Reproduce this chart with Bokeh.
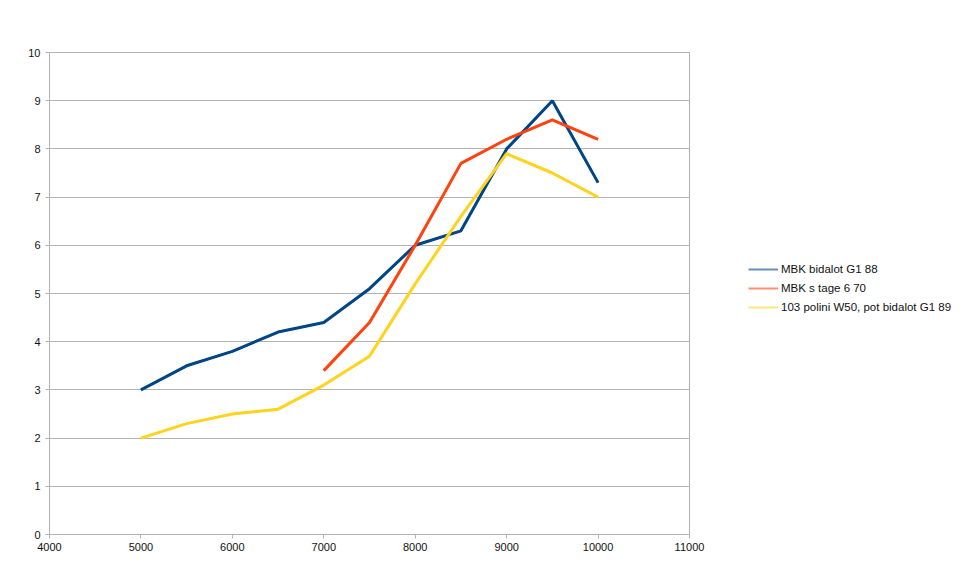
from bokeh.plotting import figure
from bokeh.models import Legend, LegendItem, FixedTicker, Range1d
from bokeh.embed import file_html
from bokeh.resources import INLINE

x_blue = [5000, 5500, 6000, 6500, 7000, 7500, 8000, 8500, 9000, 9500, 10000]
y_blue = [3.0, 3.5, 3.8, 4.2, 4.4, 5.1, 6.0, 6.3, 8.0, 9.0, 7.3]
x_red = [7000, 7500, 8000, 8500, 9000, 9500, 10000]
y_red = [3.4, 4.4, 6.0, 7.7, 8.2, 8.6, 8.2]
x_yellow = [5000, 5500, 6000, 6500, 7000, 7500, 8000, 8500, 9000, 9500, 10000]
y_yellow = [2.0, 2.3, 2.5, 2.6, 3.1, 3.7, 5.2, 6.6, 7.9, 7.5, 7.0]
names = ["MBK bidalot G1 88", "MBK s tage 6 70", "103 polini W50, pot bidalot G1 89"]
colors = ["#004586", "#ff420e", "#ffd320"]
x_ticks = [4000, 5000, 6000, 7000, 8000, 9000, 10000, 11000]
y_ticks = [0, 1, 2, 3, 4, 5, 6, 7, 8, 9, 10]

p = figure(width=956, height=561, frame_width=640, frame_height=482,
           min_border_left=49, min_border_top=52, min_border_bottom=27, min_border_right=267,
           x_range=Range1d(4000, 11000), y_range=Range1d(0, 10),
           output_backend="svg", toolbar_location=None)
p.outline_line_color = "#b3b3b3"
p.outline_line_width = 1
p.background_fill_color = "white"
p.border_fill_color = "white"

grey = "#b3b3b3"
for ax in (p.xaxis[0], p.yaxis[0]):
    ax.axis_line_color = grey
    ax.major_tick_line_color = grey
    ax.minor_tick_line_color = None
    ax.major_tick_out = 4
    ax.major_tick_in = 0
    ax.major_label_text_font = "Liberation Sans"
    ax.major_label_text_font_size = "11px"
    ax.major_label_text_color = "#111111"
p.xaxis[0].ticker = FixedTicker(ticks=x_ticks)
p.yaxis[0].ticker = FixedTicker(ticks=y_ticks)
p.xaxis[0].major_label_standoff = 4
p.yaxis[0].major_label_standoff = 5
p.xgrid.grid_line_color = None
p.ygrid.grid_line_color = grey
p.ygrid.ticker = FixedTicker(ticks=y_ticks)

series = [(x_blue, y_blue), (x_red, y_red), (x_yellow, y_yellow)]
# thinner, lighter copies used as legend swatches (hidden under the main lines)
swatches = [p.line(xs, ys, line_color=c, line_width=2, line_alpha=0.6)
            for (xs, ys), c in zip(series, colors)]
for (xs, ys), c in zip(series, colors):
    p.line(xs, ys, line_color=c, line_width=3)

legend = Legend(items=[LegendItem(label=n, renderers=[s]) for n, s in zip(names, swatches)],
                location=(59, 221), border_line_color=None, background_fill_alpha=0,
                label_text_font="Liberation Sans", label_text_font_size="11.5px",
                label_text_color="#111111", glyph_width=30, glyph_height=12,
                label_standoff=3, spacing=6, padding=0, margin=0,
                label_height=13)
p.add_layout(legend, "right")

open("out.html", "w").write(file_html(p, INLINE))
